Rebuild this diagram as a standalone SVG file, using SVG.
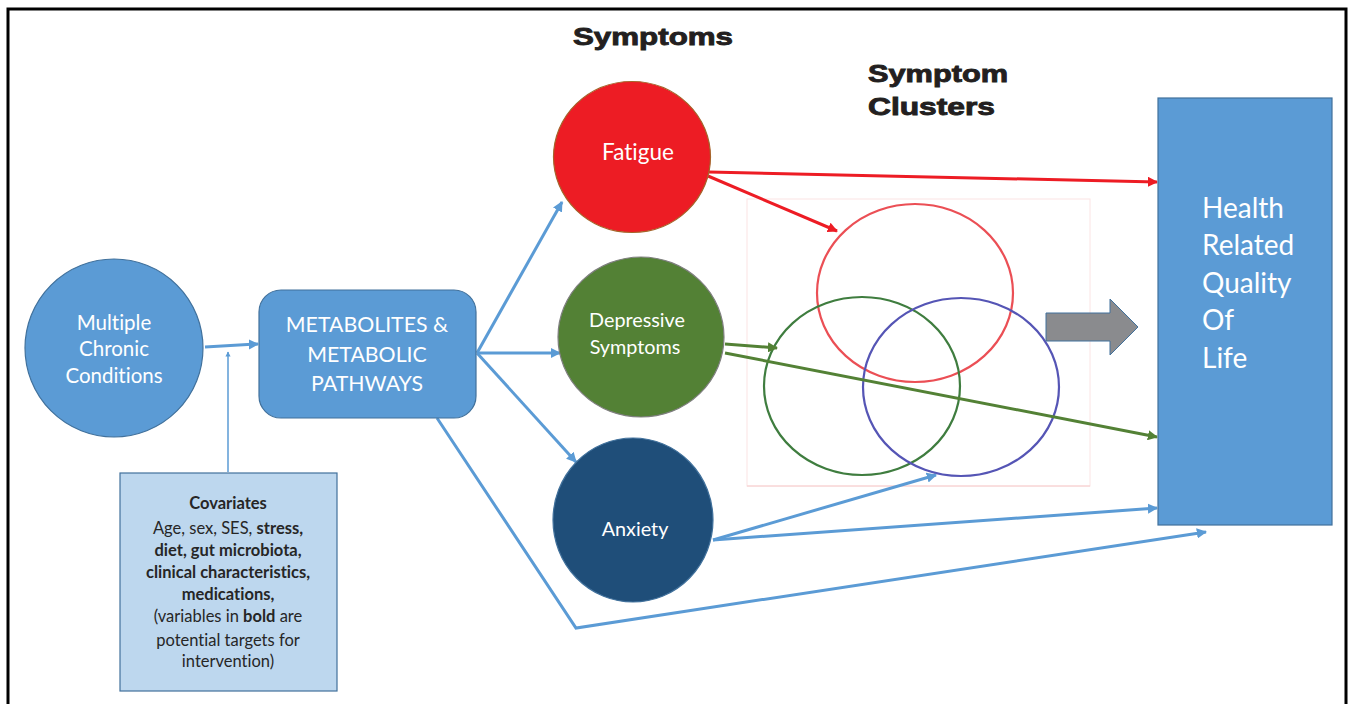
<svg xmlns="http://www.w3.org/2000/svg" width="1349" height="704" viewBox="0 0 1349 704">
<style>
.lbl{font-family:Lato,"Liberation Sans",sans-serif;fill:#fff;text-anchor:middle;font-variant-ligatures:none}
.cov{font-family:Lato,"Liberation Sans",sans-serif;fill:#262626;text-anchor:middle;font-size:16.5px;font-variant-ligatures:none}
.b{font-weight:bold}
.title{font-family:"Liberation Sans",Arial,sans-serif;font-weight:bold;font-size:24px;fill:#231F20;stroke:#231F20;stroke-width:0.9}
.cb{fill:none;stroke:#5B9BD5;stroke-width:3;marker-end:url(#ab)}
.cr{fill:none;stroke:#ED1C24;stroke-width:3;marker-end:url(#ar)}
.cg{fill:none;stroke:#538135;stroke-width:3;marker-end:url(#ag)}
</style>
<defs>
<marker id="ab" viewBox="0 0 10 10" refX="9" refY="5" markerWidth="3.4" markerHeight="3.4" orient="auto"><path d="M0,0 L10,5 L0,10 z" fill="#5B9BD5"/></marker>
<marker id="ar" viewBox="0 0 10 10" refX="9" refY="5" markerWidth="3.4" markerHeight="3.4" orient="auto"><path d="M0,0 L10,5 L0,10 z" fill="#ED1C24"/></marker>
<marker id="ag" viewBox="0 0 10 10" refX="9" refY="5" markerWidth="3.4" markerHeight="3.4" orient="auto"><path d="M0,0 L10,5 L0,10 z" fill="#538135"/></marker>
</defs>
<rect width="1349" height="704" fill="#fff"/>
<g id="frame"><path d="M8,720 L8,9 L1346,9 L1346,720" fill="none" stroke="#000" stroke-width="3"/></g>

<g id="titles">
<text class="title" x="573" y="45" textLength="160" lengthAdjust="spacingAndGlyphs">Symptoms</text>
<text class="title" x="868" y="82" textLength="140" lengthAdjust="spacingAndGlyphs">Symptom</text>
<text class="title" x="868" y="115" textLength="127" lengthAdjust="spacingAndGlyphs">Clusters</text>
</g>

<g id="venn">
<rect x="747" y="199" width="343" height="287" fill="#fff" stroke="#fbe4e4" stroke-width="1"/>
<line x1="747" y1="486" x2="1090" y2="486" stroke="#f6cccc" stroke-width="1"/>
<ellipse cx="915" cy="293" rx="98" ry="89" fill="none" stroke="#EB4F55" stroke-width="2.2"/>
<ellipse cx="862" cy="386" rx="98" ry="89" fill="none" stroke="#3F7D3F" stroke-width="2.2"/>
<ellipse cx="961" cy="387" rx="98" ry="89" fill="none" stroke="#5555B5" stroke-width="2.2"/>
</g>

<g id="block-arrow"><polygon points="1046,313 1110,313 1110,299 1138,327 1110,355 1110,341 1046,341" fill="#8A8B8E" stroke="#41719C" stroke-width="1"/></g>

<g id="connectors">
<path class="cb" d="M205,347 L258,344"/>
<path class="cb" d="M228,472 L228,352" style="stroke-width:1.5"/>
<path class="cb" d="M477,353 L562,202"/>
<path class="cb" d="M477,353 L560,353"/>
<path class="cb" d="M477,353 L576,462"/>
<path class="cr" d="M709,172 L1157,182"/>
<path class="cr" d="M708,176 L837,231"/>
<path class="cg" d="M725,344 L777,348"/>
<path class="cg" d="M725,353 L1157,437"/>
<path class="cb" d="M713,540 L936,475"/>
<path class="cb" d="M713,540 L1157,508"/>
<path class="cb" d="M437,418 L576,628 L1206,532"/>
</g>

<g id="mcc">
<circle cx="114" cy="348" r="89" fill="#5B9BD5" stroke="#41719C" stroke-width="1.2"/>
<text class="lbl" font-size="20.5" x="114" y="330">Multiple</text>
<text class="lbl" font-size="20.5" x="114" y="356">Chronic</text>
<text class="lbl" font-size="20.5" x="114" y="383">Conditions</text>
</g>

<g id="metabolites">
<rect x="259" y="290" width="217" height="128" rx="22" fill="#5B9BD5" stroke="#41719C" stroke-width="1.2"/>
<text class="lbl" font-size="21.3" x="367" y="332">METABOLITES &amp;</text>
<text class="lbl" font-size="21.3" x="367" y="362">METABOLIC</text>
<text class="lbl" font-size="21.3" x="367" y="391">PATHWAYS</text>
</g>

<g id="covariates">
<rect x="120" y="473" width="217" height="218" fill="#BDD7EE" stroke="#41719C" stroke-width="1.2"/>
<text class="cov b" x="228" y="509">Covariates</text>
<text class="cov" x="228" y="534">Age, sex, SES, <tspan class="b">stress,</tspan></text>
<text class="cov b" x="228" y="556">diet, gut microbiota,</text>
<text class="cov b" x="228" y="578">clinical characteristics,</text>
<text class="cov b" x="228" y="600">medications,</text>
<text class="cov" x="228" y="622">(variables in <tspan class="b">bold</tspan> are</text>
<text class="cov" x="228" y="646">potential targets for</text>
<text class="cov" x="228" y="667">intervention)</text>
</g>

<g id="fatigue">
<ellipse cx="632" cy="157" rx="78.5" ry="75.5" fill="#ED1C24" stroke="#A5642A" stroke-width="1.2"/>
<text class="lbl" font-size="22.5" x="638" y="160">Fatigue</text>
</g>

<g id="depressive">
<ellipse cx="641" cy="337" rx="83" ry="80" fill="#538135" stroke="#7F7F7F" stroke-width="1.2"/>
<text class="lbl" font-size="19.8" x="637" y="327">Depressive</text>
<text class="lbl" font-size="19.8" x="635" y="354">Symptoms</text>
</g>

<g id="anxiety">
<ellipse cx="633" cy="520" rx="80" ry="82" fill="#1F4E79" stroke="#41719C" stroke-width="1.2"/>
<text class="lbl" font-size="19.8" x="635" y="536">Anxiety</text>
</g>

<g id="hrqol">
<rect x="1158" y="98" width="174" height="427" fill="#5B9BD5" stroke="#41719C" stroke-width="1.2"/>
<text class="lbl" font-size="28" x="1202" y="218" style="text-anchor:start">Health</text>
<text class="lbl" font-size="28" x="1202" y="255" style="text-anchor:start">Related</text>
<text class="lbl" font-size="28" x="1202" y="293" style="text-anchor:start">Quality</text>
<text class="lbl" font-size="28" x="1202" y="330" style="text-anchor:start">Of</text>
<text class="lbl" font-size="28" x="1202" y="368" style="text-anchor:start">Life</text>
</g>
</svg>
